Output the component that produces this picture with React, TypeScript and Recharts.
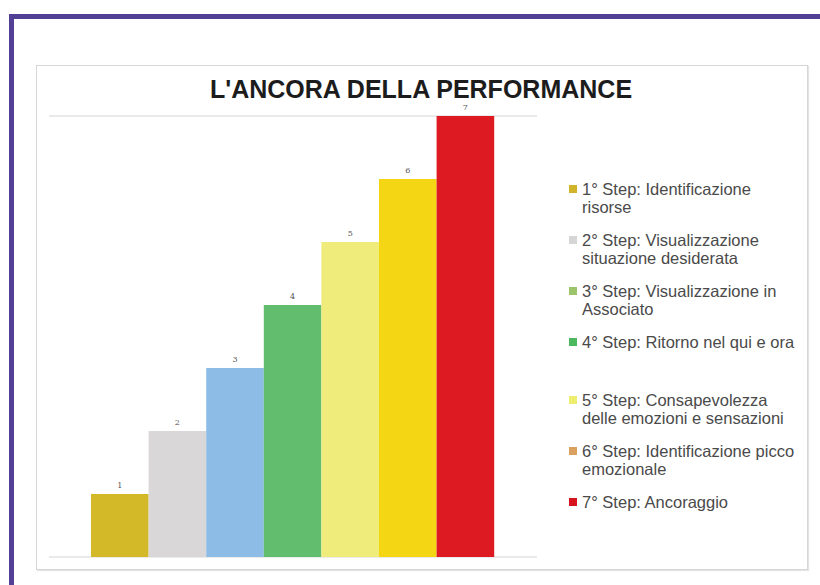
import React from 'react';
import { BarChart, Bar, XAxis, YAxis, CartesianGrid, Legend, LabelList } from 'recharts';

// one category, seven series (one per step), as in the original spreadsheet chart
const stepKeys = ['s1', 's2', 's3', 's4', 's5', 's6', 's7'];
const stepValues = [1, 2, 3, 4, 5, 6, 7];
const stepLabels = [
  '1° Step: Identificazione\nrisorse',
  '2° Step: Visualizzazione\nsituazione desiderata',
  '3° Step: Visualizzazione in\nAssociato',
  '4° Step: Ritorno nel qui e ora',
  '5° Step: Consapevolezza\ndelle emozioni e sensazioni',
  '6° Step: Identificazione picco\nemozionale',
  '7° Step: Ancoraggio',
];
const barColors = ['#d3b927', '#d9d7d8', '#8dbde6', '#62be6e', '#f0ec7c', '#f5d614', '#dd1a22'];
const legendColors = ['#d0b42a', '#d6d6d6', '#9cc46a', '#4cb860', '#eded6e', '#d9a060', '#d7141d'];
const yTicks = [0, 1, 2, 3, 4, 5, 6, 7];

const row: Record<string, number | string> = { name: 'Performance' };
stepKeys.forEach((k, i) => {
  row[k] = stepValues[i];
});
const data = [row];

const FONT = '"Liberation Sans", Arial, sans-serif';

const StepLegend = () => (
  <div style={{ fontFamily: FONT, fontSize: 16.5, lineHeight: '18px', color: '#4a4a4a' }}>
    {stepLabels.map((label, i) => (
      <div
        key={label}
        style={{
          display: 'flex',
          alignItems: 'flex-start',
          marginBottom: i === 3 ? 40 : 15,
        }}
      >
        <span
          style={{
            display: 'inline-block',
            width: 8,
            height: 8,
            marginTop: 5,
            marginRight: 5,
            background: legendColors[i],
            flex: 'none',
          }}
        />
        <span style={{ whiteSpace: 'pre' }}>{label}</span>
      </div>
    ))}
  </div>
);

export default function App() {
  return (
    <div
      style={{
        position: 'absolute',
        left: 0,
        top: 0,
        width: 820,
        height: 585,
        overflow: 'hidden',
        background: '#fff',
      }}
    >
      {/* purple frame, open towards the right and bottom */}
      <div
        style={{
          position: 'absolute',
          left: 9,
          top: 14,
          width: 830,
          height: 600,
          borderTop: '5px solid #523f96',
          borderLeft: '5px solid #523f96',
        }}
      />
      {/* chart box */}
      <div
        style={{
          position: 'absolute',
          left: 36,
          top: 65,
          width: 770,
          height: 503,
          border: '1px solid #d6d6d6',
          boxShadow: '1px 1px 1px #e4e4e4',
        }}
      />
      <div
        style={{
          position: 'absolute',
          left: 121,
          top: 77,
          width: 600,
          textAlign: 'center',
          fontFamily: FONT,
          fontWeight: 'bold',
          fontSize: 25,
          lineHeight: '25px',
          color: '#1c1c1c',
        }}
      >
        L'ANCORA DELLA PERFORMANCE
      </div>
      <div style={{ position: 'absolute', left: 0, top: 0 }}>
        <BarChart
          width={820}
          height={585}
          data={data}
          margin={{ top: 116, right: 283, bottom: 28, left: 49 }}
          barSize={57.6}
          barGap={0}
        >
          <CartesianGrid vertical={false} stroke="#e3e3e3" strokeWidth={1.5} />
          <XAxis
            dataKey="name"
            tick={false}
            tickLine={false}
            height={0}
            axisLine={{ stroke: '#d0d0d0', strokeWidth: 1.5 }}
          />
          <YAxis
            domain={[0, 7]}
            ticks={yTicks}
            tick={false}
            tickLine={false}
            width={0}
            axisLine={{ stroke: '#e0e0e0', strokeWidth: 1.5 }}
          />
          <Legend
            layout="vertical"
            align="center"
            verticalAlign="middle"
            wrapperStyle={{ left: 569, top: 180, width: 245 }}
            content={<StepLegend />}
          />
          {stepKeys.map((k, i) => (
            <Bar
              key={k}
              dataKey={k}
              name={stepLabels[i].replace('\n', ' ')}
              fill={barColors[i]}
              isAnimationActive={false}
            >
              <LabelList
                dataKey={k}
                position="top"
                offset={6}
                fontSize={8}
                fill="#555"
                fontFamily='"DejaVu Serif", serif'
              />
            </Bar>
          ))}
        </BarChart>
      </div>
    </div>
  );
}
